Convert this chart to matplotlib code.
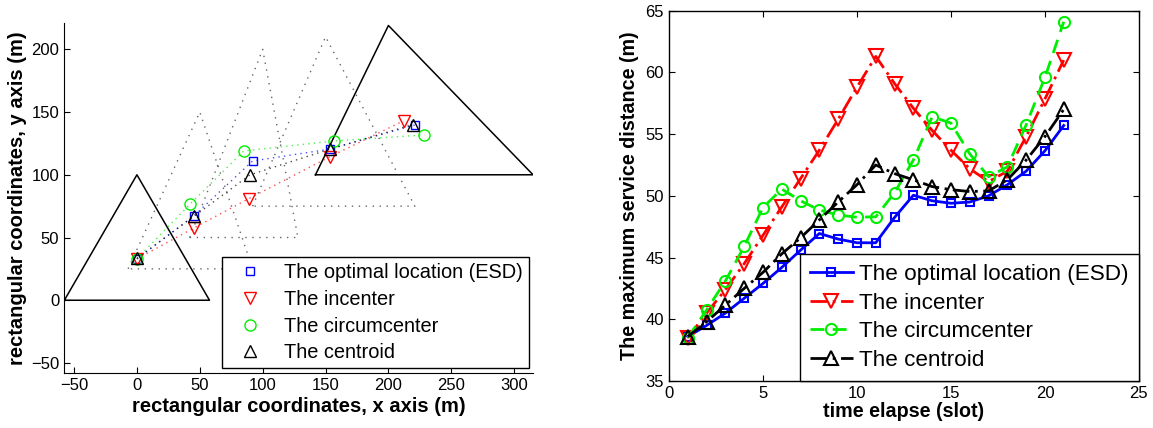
import matplotlib
matplotlib.use("Agg")
import matplotlib.pyplot as plt
import numpy as np

plt.rcParams['font.family'] = ['Liberation Sans', 'DejaVu Sans']
plt.rcParams['xtick.direction'] = 'in'
plt.rcParams['ytick.direction'] = 'in'

# --- left panel: triangle geometry and the four location trajectories ---
start_tri_x = [-57.7, 0, 57.7]
start_tri_y = [0, 100, 0]
end_tri_x = [142, 200, 315]
end_tri_y = [100, 219, 100]
mid_tris_x = [[-7, 50, 92], [42, 100, 128], [92, 150, 221]]
mid_tris_y = [[25, 150, 25], [50, 200, 50], [75, 210, 75]]

esd_x = [0, 45.5, 92, 153.7, 221]
esd_y = [33, 67.5, 111, 120.5, 139.7]
inc_x = [0, 45.5, 89, 153.7, 212]
inc_y = [33, 57.7, 81, 114.5, 143]
circ_x = [0, 42.6, 85, 157, 228]
circ_y = [33, 77, 119, 127, 131.7]
cent_x = [0, 45.5, 90, 153.7, 219.3]
cent_y = [33.3, 67, 100, 120.5, 140]

# --- right panel: maximum service distance per time slot ---
slots = list(range(1, 22))
esd_dist = [38.6, 39.5, 40.5, 41.7, 42.9, 44.2, 45.6, 46.95, 46.5, 46.2, 46.2,
            48.25, 50.05, 49.6, 49.4, 49.5, 50.0, 50.9, 52.0, 53.65, 55.7]
inc_dist = [38.5, 40.5, 42.4, 44.5, 46.8, 49.1, 51.4, 53.7, 56.2, 58.8, 61.3,
            59.1, 57.1, 55.3, 53.7, 52.2, 51.15, 52.0, 54.8, 57.85, 61.0]
circ_dist = [38.5, 40.75, 43.1, 45.9, 49.05, 50.55, 49.6, 48.85, 48.45, 48.27, 48.3,
             50.25, 52.9, 56.4, 55.9, 53.4, 51.55, 52.35, 55.75, 59.6, 64.1]
cent_dist = [38.6, 39.8, 41.15, 42.5, 43.8, 45.3, 46.6, 48.05, 49.5, 50.9, 52.5,
             51.8, 51.3, 50.75, 50.5, 50.35, 50.4, 51.3, 52.9, 54.8, 57.0]

labels = ['The optimal location (ESD)', 'The incenter',
          'The circumcenter', 'The centroid']

fig = plt.figure(figsize=(11.53, 4.28), dpi=100)
ax1 = fig.add_axes([0.0555, 0.1285, 0.4068, 0.8178])
ax2 = fig.add_axes([0.5802, 0.1098, 0.4076, 0.8652])

# solid triangles at the first and last slot
for tx, ty in [(start_tri_x, start_tri_y), (end_tri_x, end_tri_y)]:
    ax1.plot(tx + tx[:1], ty + ty[:1], color='black', lw=1.1)
# dotted triangles in between
for tx, ty in zip(mid_tris_x, mid_tris_y):
    ax1.plot(tx + tx[:1], ty + ty[:1], color='0.4', lw=1.0, ls=(0, (1, 4)))

series = [
    (esd_x, esd_y, 'blue', 's', 6),
    (inc_x, inc_y, 'red', 'v', 8),
    (circ_x, circ_y, '#00ee00', 'o', 8),
    (cent_x, cent_y, 'black', '^', 8),
]
handles = []
for (xs, ys, c, m, ms), lab in zip(series, labels):
    ax1.plot(xs, ys, color=c, lw=1.0, ls=(0, (1, 3)), alpha=0.7)
    h, = ax1.plot(xs, ys, ls='none', marker=m, ms=ms, mfc='none',
                  mec=c, mew=1.0, label=lab)
    handles.append(h)

ax1.set_xlim(-58, 315)
ax1.set_ylim(-58, 221)
ax1.set_xticks(range(-50, 301, 50))
ax1.set_yticks(range(-50, 201, 50))
ax1.set_xticklabels(['\u221250'] + [str(v) for v in range(0, 301, 50)])
ax1.set_yticklabels(['\u221250'] + [str(v) for v in range(0, 201, 50)])
ax1.spines['top'].set_visible(False)
ax1.spines['right'].set_visible(False)
ax1.tick_params(labelsize=12, length=4, width=0.8)
ax1.set_xlabel('rectangular coordinates, x axis (m)', fontsize=14.5,
               fontweight='bold', labelpad=3)
ax1.set_ylabel('rectangular coordinates, y axis (m)', fontsize=14.5,
               fontweight='bold', labelpad=3)
leg1 = ax1.legend(handles=handles, loc='lower right',
                  bbox_to_anchor=(0.991, 0.014), borderaxespad=0,
                  fontsize=14.4, fancybox=False, framealpha=1,
                  edgecolor='black', handletextpad=0.6, labelspacing=0.38,
                  borderpad=0.3, handlelength=2.2)
leg1.get_frame().set_linewidth(1.0)

# right panel lines
ax2.plot(slots, esd_dist, color='blue', lw=2, ls='-', marker='s', ms=6,
         mfc='none', mew=1.5, label=labels[0])
ax2.plot(slots, inc_dist, color='red', lw=2, ls=(0, (6, 2, 1, 2)), marker='v',
         ms=10, mfc='none', mew=1.5, label=labels[1])
ax2.plot(slots, circ_dist, color='#00ee00', lw=2, ls=(0, (5, 3)), marker='o',
         ms=8, mfc='none', mew=1.5, label=labels[2])
ax2.plot(slots, cent_dist, color='black', lw=2, ls=(0, (6, 2, 1, 2)), marker='^',
         ms=10, mfc='none', mew=1.5, label=labels[3])

ax2.set_xlim(0, 25)
ax2.set_ylim(35, 65)
ax2.set_xticks(range(0, 26, 5))
ax2.set_yticks(range(35, 66, 5))
ax2.tick_params(labelsize=12, length=4, width=0.8, top=True, right=True)
for s in ax2.spines.values():
    s.set_linewidth(1.0)
ax2.set_xlabel('time elapse (slot)', fontsize=14.2, fontweight='bold', labelpad=1)
ax2.set_ylabel('The maximum service distance (m)', fontsize=14.2,
               fontweight='bold', labelpad=5)
leg2 = ax2.legend(loc='lower right', bbox_to_anchor=(1.0, 0.0),
                  borderaxespad=0, fontsize=16.2, fancybox=False, framealpha=1,
                  edgecolor='black', handlelength=1.9, handletextpad=0.3,
                  labelspacing=0.34, borderpad=0.45)
leg2.get_frame().set_linewidth(1.0)

fig.savefig('out.png', dpi=100)
